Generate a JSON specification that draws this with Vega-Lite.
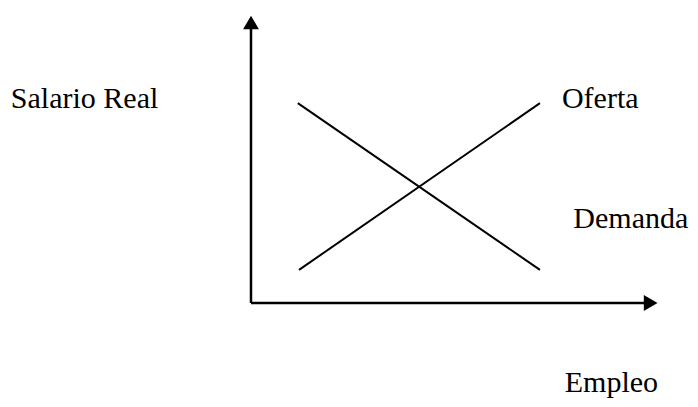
{
  "$schema": "https://vega.github.io/schema/vega-lite/v6.json",
  "width": 698,
  "height": 407,
  "padding": 0,
  "autosize": {"type": "none"},
  "background": "white",
  "config": {"view": {"stroke": null}},
  "datasets": {
    "curves": [
      {"curve": "Oferta", "empleo": 1.18, "salario": 1.15},
      {"curve": "Oferta", "empleo": 7.10, "salario": 6.94},
      {"curve": "Demanda", "empleo": 1.15, "salario": 6.94},
      {"curve": "Demanda", "empleo": 7.10, "salario": 1.15}
    ],
    "axes": [
      {"eje": "vertical", "x": 0, "y": 0, "x2": 0, "y2": 9.6},
      {"eje": "horizontal", "x": 0, "y": 0, "x2": 9.7, "y2": 0}
    ],
    "arrows": [
      {"eje": "vertical", "x": 0, "y": 9.74, "shape": "triangle-up"},
      {"eje": "horizontal", "x": 9.82, "y": 0, "shape": "triangle-right"}
    ],
    "labels": [
      {"text": "Salario Real", "x": -5.9, "y": 6.77},
      {"text": "Oferta", "x": 7.64, "y": 6.77},
      {"text": "Demanda", "x": 7.92, "y": 2.6},
      {"text": "Empleo", "x": 7.71, "y": -3.1}
    ]
  },
  "layer": [
    {
      "data": {"name": "axes"},
      "mark": {"type": "rule", "color": "black", "strokeWidth": 2.5},
      "encoding": {
        "x": {"field": "x", "type": "quantitative", "scale": {"domain": [-6.167, 10.983], "nice": false, "zero": false}, "axis": null},
        "y": {"field": "y", "type": "quantitative", "scale": {"domain": [-3.611, 10.521], "nice": false, "zero": false}, "axis": null},
        "x2": {"field": "x2"},
        "y2": {"field": "y2"}
      }
    },
    {
      "data": {"name": "arrows"},
      "mark": {"type": "point", "filled": true, "color": "black", "opacity": 1, "size": 250},
      "encoding": {
        "x": {"field": "x", "type": "quantitative"},
        "y": {"field": "y", "type": "quantitative"},
        "shape": {"field": "shape", "type": "nominal", "scale": null, "legend": null}
      }
    },
    {
      "data": {"name": "curves"},
      "mark": {"type": "line", "color": "black", "strokeWidth": 2},
      "encoding": {
        "x": {"field": "empleo", "type": "quantitative"},
        "y": {"field": "salario", "type": "quantitative"},
        "detail": {"field": "curve"}
      }
    },
    {
      "data": {"name": "labels"},
      "mark": {"type": "text", "font": "Liberation Serif", "fontSize": 30, "align": "left", "baseline": "alphabetic", "color": "black"},
      "encoding": {
        "x": {"field": "x", "type": "quantitative"},
        "y": {"field": "y", "type": "quantitative"},
        "text": {"field": "text"}
      }
    }
  ]
}
